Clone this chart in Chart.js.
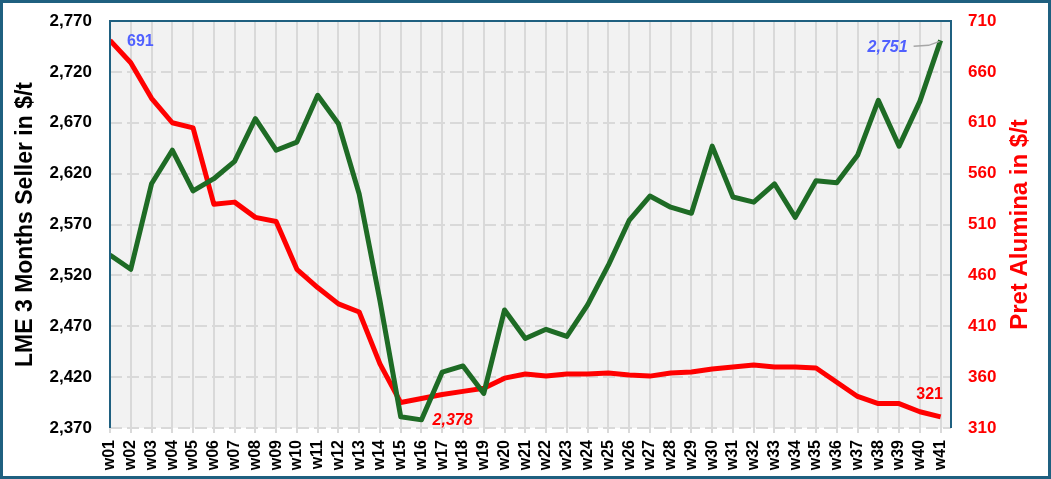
<!DOCTYPE html>
<html>
<head>
<meta charset="utf-8">
<script src="https://cdn.jsdelivr.net/npm/chart.js@4"></script>
<style>
  html, body { margin: 0; padding: 0; background: #fff; }
  #wrap {
    width: 1051px; height: 479px; box-sizing: border-box;
    border: 3px solid #1F6080; background: #fff;
  }
  #chart { display: block; }
</style>
</head>
<body>
<div id="wrap"><canvas id="chart" width="1045" height="473"></canvas></div>
<script>
// weeks on the x axis
const weeks = ["w01","w02","w03","w04","w05","w06","w07","w08","w09","w10",
  "w11","w12","w13","w14","w15","w16","w17","w18","w19","w20",
  "w21","w22","w23","w24","w25","w26","w27","w28","w29","w30",
  "w31","w32","w33","w34","w35","w36","w37","w38","w39","w40","w41"];

// LME 3 months seller, $/t (left axis)
const lmeSeller = [2540, 2526, 2610, 2643, 2603, 2615, 2632, 2674, 2643, 2651,
  2697, 2669, 2600, 2495, 2381, 2378, 2425, 2431, 2404, 2486,
  2458, 2467, 2460, 2491, 2530, 2574, 2598, 2587, 2581, 2647,
  2597, 2592, 2610, 2577, 2613, 2611, 2638, 2692, 2647, 2691, 2751];

// alumina price, $/t (right axis)
const aluminaPrice = [691, 669, 634, 610, 605, 530, 532, 517, 513, 466,
  448, 432, 424, 373, 335, 339, 343, 346, 349, 359,
  363, 361, 363, 363, 364, 362, 361, 364, 365, 368,
  370, 372, 370, 370, 369, 355, 341, 334, 334, 326, 321];

const leftTicks = [2370, 2770, 50];
const rightTicks = [310, 710, 50];

const leftTitle = "LME 3 Months Seller in $/t";
const rightTitle = "Pret Alumina in $/t";

const green = "#1E6B25";
const red = "#FF0000";
const blue = "#5060FF";
const FONT = "'Liberation Sans', Arial, sans-serif";

const toPoints = arr => arr.map((v, i) => ({ x: i, y: v }));

const plotBox = {
  id: "plotBox",
  beforeDraw(chart) {
    const { ctx, chartArea: a } = chart;
    ctx.save();
    ctx.fillStyle = "#F2F2F2";
    ctx.fillRect(a.left, a.top, a.right - a.left, a.bottom - a.top);
    ctx.restore();
  },
  afterDatasetsDraw(chart) {
    const { ctx, chartArea: a, scales } = chart;
    const x = scales.x, yl = scales.y, yr = scales.y1;
    ctx.save();
    ctx.strokeStyle = "#1F6080";
    ctx.lineWidth = 2;
    ctx.beginPath();
    ctx.moveTo(a.left, a.bottom);
    ctx.lineTo(a.left, a.top);
    ctx.lineTo(a.right, a.top);
    ctx.lineTo(a.right, a.bottom);
    ctx.stroke();

    // axis titles, both reading bottom to top
    const midY = (a.top + a.bottom) / 2;
    ctx.font = "bold 23px " + FONT;
    ctx.textAlign = "center";
    ctx.textBaseline = "middle";
    ctx.fillStyle = "#000";
    ctx.save();
    ctx.translate(23, midY);
    ctx.rotate(-Math.PI / 2);
    ctx.fillText(leftTitle, 0, 0);
    ctx.restore();
    ctx.font = "bold 24px " + FONT;
    ctx.fillStyle = red;
    ctx.save();
    ctx.translate(1017, midY);
    ctx.rotate(-Math.PI / 2);
    ctx.fillText(rightTitle, 0, 0);
    ctx.restore();

    const last = weeks.length - 1;
    // 691 first alumina value
    ctx.font = "bold 16px " + FONT;
    ctx.fillStyle = blue;
    ctx.textAlign = "left";
    ctx.fillText(aluminaPrice[0].toLocaleString("en-US"), x.getPixelForValue(0) + 17, yr.getPixelForValue(aluminaPrice[0]) + 1);

    // 2,751 last LME value with leader
    const gx = x.getPixelForValue(last), gy = yl.getPixelForValue(lmeSeller[last]);
    ctx.font = "italic bold 16px " + FONT;
    ctx.textAlign = "right";
    ctx.fillText(lmeSeller[last].toLocaleString("en-US"), gx - 33, gy + 7);
    ctx.strokeStyle = "#A6A6A6";
    ctx.lineWidth = 1.5;
    ctx.beginPath();
    ctx.moveTo(gx - 27, gy + 6);
    ctx.lineTo(gx - 12, gy + 5);
    ctx.lineTo(gx - 1, gy + 1);
    ctx.stroke();

    // 2,378 LME minimum
    ctx.fillStyle = red;
    ctx.textAlign = "center";
    const minLme = Math.min(...lmeSeller);
    ctx.fillText(minLme.toLocaleString("en-US"), x.getPixelForValue(16.5), a.bottom - 7);

    // 321 last alumina value
    ctx.font = "bold 16px " + FONT;
    const rx = x.getPixelForValue(last), ry = yr.getPixelForValue(aluminaPrice[last]);
    ctx.fillText(aluminaPrice[last], rx - 11, ry - 22);
    ctx.restore();
  }
};

new Chart(document.getElementById("chart"), {
  type: "line",
  data: {
    datasets: [
      {
        label: "LME 3 Months Seller",
        data: toPoints(lmeSeller),
        yAxisID: "y",
        borderColor: green,
        borderWidth: 5,
        pointRadius: 0,
        tension: 0,
        borderJoinStyle: "round"
      },
      {
        label: "Pret Alumina",
        data: toPoints(aluminaPrice),
        yAxisID: "y1",
        borderColor: red,
        borderWidth: 5,
        pointRadius: 0,
        tension: 0,
        borderJoinStyle: "round"
      }
    ]
  },
  options: {
    responsive: false,
    animation: false,
    layout: { padding: { top: 18, right: 0, left: 0, bottom: 0 } },
    plugins: { legend: { display: false }, tooltip: { enabled: false } },
    scales: {
      x: {
        type: "linear",
        min: 0,
        max: weeks.length - 0.5,
        afterFit: s => { s.height = 48; },
        grid: { color: "#D9D9D9", lineWidth: 2, tickLength: 5 },
        border: { display: false },
        ticks: {
          stepSize: 1,
          includeBounds: false,
          autoSkip: false,
          minRotation: 90,
          maxRotation: 90,
          padding: 7,
          color: "#000",
          font: { family: FONT, size: 16, weight: "bold" },
          callback: v => weeks[v] || ""
        }
      },
      y: {
        position: "left",
        min: leftTicks[0],
        max: leftTicks[1],
        afterFit: s => { s.width = 107; },
        grid: { color: "#D9D9D9", lineWidth: 2, tickLength: 18, tickColor: "rgba(0,0,0,0)" },
        border: { display: false, dash: [12, 5] },
        ticks: {
          stepSize: leftTicks[2],
          padding: 0,
          color: "#000",
          font: { family: FONT, size: 17, weight: "bold" },
          callback: v => v.toLocaleString("en-US")
        }
      },
      y1: {
        position: "right",
        min: rightTicks[0],
        max: rightTicks[1],
        afterFit: s => { s.width = 97; },
        grid: { drawOnChartArea: false, tickLength: 17, tickColor: "rgba(0,0,0,0)" },
        border: { display: false },
        ticks: {
          stepSize: rightTicks[2],
          padding: 0,
          color: red,
          font: { family: FONT, size: 17, weight: "bold" }
        }
      }
    }
  },
  plugins: [plotBox]
});
</script>
</body>
</html>
